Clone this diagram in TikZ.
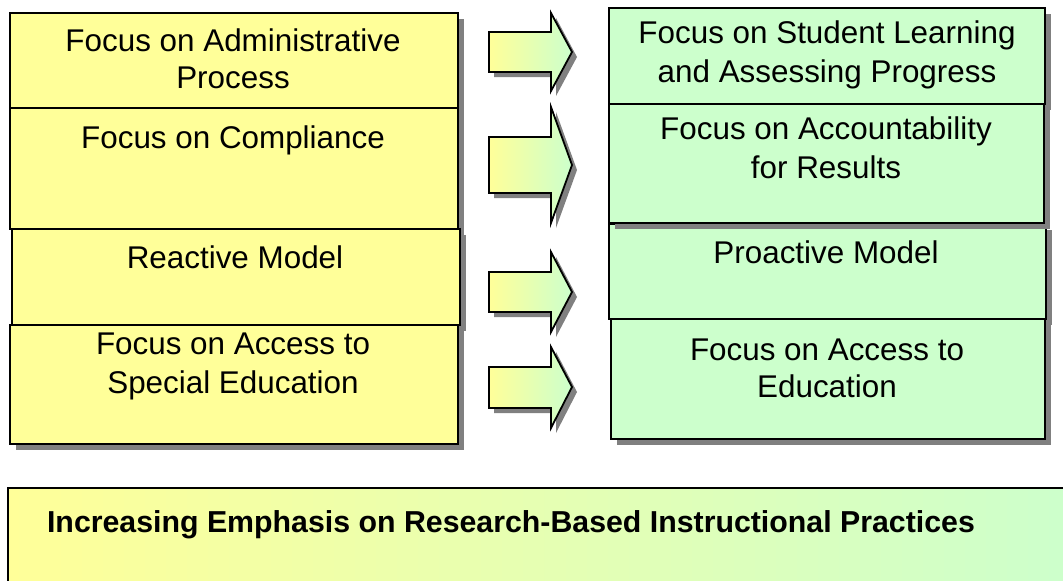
\documentclass[tikz,border=0pt]{standalone}
\usepackage{fontspec}
\setmainfont{Liberation Sans}
\usetikzlibrary{shadows}
\definecolor{ylw}{RGB}{255,255,153}
\definecolor{grn}{RGB}{204,255,204}
\definecolor{shd}{RGB}{128,128,128}
\tikzset{
  boxsh/.style={drop shadow={shadow xshift=6pt,shadow yshift=-6pt,fill=shd,opacity=1}},
  lbox/.style={draw=black, line width=2pt, fill=ylw, inner sep=0pt, anchor=north west, boxsh},
  rbox/.style={draw=black, line width=2pt, fill=grn, inner sep=0pt, anchor=north west, boxsh},
  txt/.style={font=\fontsize{31.4}{37}\selectfont, anchor=base, inner sep=0pt},
  bold/.style={font=\bfseries\fontsize{30.3}{35}\selectfont, anchor=base, inner sep=0pt},
  arr/.style={left color=ylw, right color=grn, draw=black, line width=1.8pt, line join=miter},
  arrsh/.style={fill=shd}
}
\newcommand{\blockarrow}[5]{%
  \fill[arrsh, xshift=5pt, yshift=-5pt] (489,#1) -- (551,#1) -- (551,#3) -- (572,#5) -- (551,#4) -- (551,#2) -- (489,#2) -- cycle;
  \shadedraw[arr] (489,#1) -- (551,#1) -- (551,#3) -- (572,#5) -- (551,#4) -- (551,#2) -- (489,#2) -- cycle;
}
\begin{document}
\begin{tikzpicture}[x=1pt,y=-1pt]
\useasboundingbox (0,0) rectangle (1063,581);
\fill[white] (0,0) rectangle (1063,581);

% left column
\node[lbox, minimum width=448pt, minimum height=95pt] (L1) at (9,12) {};
\node[lbox, minimum width=448pt, minimum height=121pt] (L2) at (9,107) {};
\node[lbox, minimum width=448pt, minimum height=96pt] (L3) at (11,228) {};
\node[lbox, minimum width=448pt, minimum height=119pt] (L4) at (9,324) {};

% right column
\node[rbox, minimum width=436pt, minimum height=96pt] (R1) at (608,7) {};
\node[rbox, minimum width=437pt, minimum height=95pt] (R3) at (608,223) {};
\node[rbox, minimum width=435pt, minimum height=119pt] (R2) at (608,103) {};
\node[rbox, minimum width=434pt, minimum height=120pt] (R4) at (610,318) {};

% texts left
\node[txt] (L1a) at (233,51) {Focus on Administrative};
\node[txt] (L1b) at (233,88) {Process};
\node[txt] (L2a) at (233,148) {Focus on Compliance};
\node[txt] (L3a) at (235,268) {Reactive Model};
\node[txt] (L4a) at (233,354) {Focus on Access to};
\node[txt] (L4b) at (233,393) {Special Education};

% texts right
\node[txt] (R1a) at (827,43) {Focus on Student Learning};
\node[txt] (R1b) at (827,82) {and Assessing Progress};
\node[txt] (R2a) at (826,139) {Focus on Accountability};
\node[txt] (R2b) at (826,178) {for Results};
\node[txt] (R3a) at (826,263) {Proactive Model};
\node[txt] (R4a) at (827,360) {Focus on Access to};
\node[txt] (R4b) at (827,397) {Education};

% arrows
\blockarrow{32}{72}{13}{91}{52}
\blockarrow{137}{193}{107}{223}{165}
\blockarrow{272}{312}{252}{332}{292}
\blockarrow{367}{408}{347}{428}{387}

% bottom box
\shadedraw[left color=ylw, right color=grn, draw=black, line width=2pt] (8,488) rectangle (1080,600);
\node[bold] (B) at (511,532) {Increasing Emphasis on Research-Based Instructional Practices};
\end{tikzpicture}
\end{document}
